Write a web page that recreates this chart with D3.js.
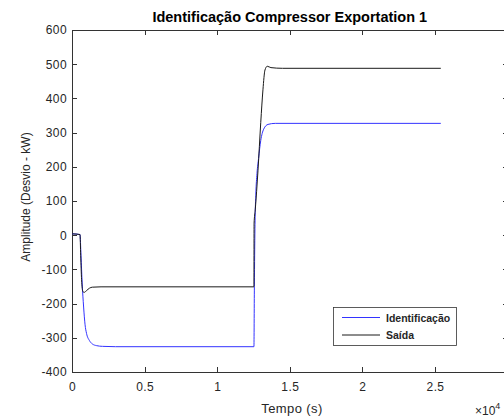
<!DOCTYPE html>
<html>
<head>
<meta charset="utf-8">
<script src="https://cdn.jsdelivr.net/npm/d3@7"></script>
<style>
  body { margin: 0; background: #fff; }
  svg { display: block; font-family: "Liberation Sans", Arial, Helvetica, sans-serif; }
</style>
</head>
<body>
<svg id="drawspace" width="504" height="419"></svg>
<script>
let drawspace = d3.select("#drawspace");

// time in units of 1e4 s
const identT = [0, 0.055, 0.062, 0.07, 0.08, 0.09, 0.1, 0.12, 0.14, 0.17, 0.21, 0.3, 1.253,
  1.256, 1.26, 1.266, 1.274, 1.285, 1.3, 1.32, 1.35, 1.4, 2.54];
const identV = [4, 2, -60, -140, -210, -262, -287, -308, -318, -323, -325, -326, -326,
  -150, 20, 120, 180, 225, 277, 310, 324, 327, 327];

const saidaT = [0, 0.055, 0.06, 0.066, 0.075, 0.085, 0.1, 0.12, 0.14, 0.2, 1.253,
  1.254, 1.262, 1.281, 1.3, 1.315, 1.329, 1.345, 1.37, 1.45, 2.54];
const saidaV = [4, 2, -60, -130, -165, -167, -162, -155, -152, -151, -151,
  35, 74, 190, 330, 425, 483, 494, 490, 488, 488];

const xTicks = [0, 0.5, 1, 1.5, 2, 2.5, 3];
const yTicks = [-400, -300, -200, -100, 0, 100, 200, 300, 400, 500, 600];
const seriesNames = ["Identificação", "Saída"];
const seriesColors = ["#3333ff", "#1a1a1a"];

const mLeft = 72, mTop = 30, mRight = 507.6, mBottom = 372;

var xScale = d3.scaleLinear().domain([0, 3]).range([mLeft, mRight]);
var yScale = d3.scaleLinear().domain([-400, 600]).range([mBottom, mTop]);

const axisColor = "#333";

function styleAxis(g, showText) {
  g.select(".domain").attr("stroke", axisColor).attr("shape-rendering", "crispEdges");
  g.selectAll(".tick line").attr("stroke", axisColor).attr("shape-rendering", "crispEdges");
  g.selectAll(".tick text")
    .attr("fill", "#262626")
    .attr("font-size", "12px")
    .attr("letter-spacing", "0.4px")
    .style("display", showText ? null : "none");
}

// axes box: ticks pointing inward on all four sides
drawspace.append("g")
  .attr("transform", "translate(0," + mBottom + ")")
  .call(d3.axisBottom(xScale).tickValues(xTicks).tickSize(-5).tickSizeOuter(0).tickPadding(10)
    .tickFormat((d) => (d < 3 ? String(d) : "")))
  .call((g) => styleAxis(g, true));

drawspace.append("g")
  .attr("transform", "translate(0," + mTop + ")")
  .call(d3.axisTop(xScale).tickValues(xTicks).tickSize(-5).tickSizeOuter(0))
  .call((g) => styleAxis(g, false));

drawspace.append("g")
  .attr("transform", "translate(" + mLeft + ",0)")
  .call(d3.axisLeft(yScale).tickValues(yTicks).tickSize(-5).tickSizeOuter(0).tickPadding(5)
    .tickFormat((d) => String(d)))
  .call((g) => styleAxis(g, true));

drawspace.append("g")
  .attr("transform", "translate(" + mRight + ",0)")
  .call(d3.axisRight(yScale).tickValues(yTicks).tickSize(-5).tickSizeOuter(0))
  .call((g) => styleAxis(g, false));

var line = d3.line()
  .x((d) => xScale(d[0]))
  .y((d) => yScale(d[1]))
  .curve(d3.curveMonotoneX);

var identData = identT.map((t, i) => [t, identV[i]]);
var saidaData = saidaT.map((t, i) => [t, saidaV[i]]);

drawspace.append("path")
  .datum(identData)
  .attr("fill", "none")
  .attr("stroke", seriesColors[0])
  .attr("stroke-width", 1)
  .attr("d", line);

drawspace.append("path")
  .datum(saidaData)
  .attr("fill", "none")
  .attr("stroke", seriesColors[1])
  .attr("stroke-width", 1)
  .attr("d", line);

// title
drawspace.append("text")
  .attr("x", (mLeft + mRight) / 2)
  .attr("y", 22)
  .attr("text-anchor", "middle")
  .attr("font-size", "14.5px")
  .attr("font-weight", "bold")
  .attr("fill", "#000")
  .text("Identificação Compressor Exportation 1");

// axis labels
drawspace.append("text")
  .attr("x", 292)
  .attr("y", 413)
  .attr("text-anchor", "middle")
  .attr("font-size", "13px")
  .attr("letter-spacing", "0.4px")
  .attr("fill", "#262626")
  .text("Tempo (s)");

drawspace.append("text")
  .attr("transform", "translate(30," + 197 + ") rotate(-90)")
  .attr("text-anchor", "middle")
  .attr("font-size", "12px")
  .attr("fill", "#262626")
  .text("Amplitude (Desvio - kW)");

var expo = drawspace.append("text")
  .attr("x", 475)
  .attr("y", 415)
  .attr("font-size", "12px")
  .attr("fill", "#262626");
expo.append("tspan").text("×10");
expo.append("tspan").attr("dy", -6).attr("font-size", "9px").text("4");

// legend
var legend = drawspace.append("g");
legend.append("rect")
  .attr("x", 333.5)
  .attr("y", 307.5)
  .attr("width", 123)
  .attr("height", 38)
  .attr("fill", "#fff")
  .attr("stroke", axisColor)
  .attr("stroke-width", 0.8);

seriesNames.forEach((name, i) => {
  var ly = 317.5 + i * 17.5;
  legend.append("line")
    .attr("x1", 342)
    .attr("x2", 380)
    .attr("y1", ly)
    .attr("y2", ly)
    .attr("stroke", seriesColors[i])
    .attr("stroke-width", 1);
  legend.append("text")
    .attr("x", 386)
    .attr("y", ly + 4)
    .attr("font-size", "10.5px")
    .attr("font-weight", "bold")
    .attr("fill", "#262626")
    .text(name);
});
</script>
</body>
</html>
